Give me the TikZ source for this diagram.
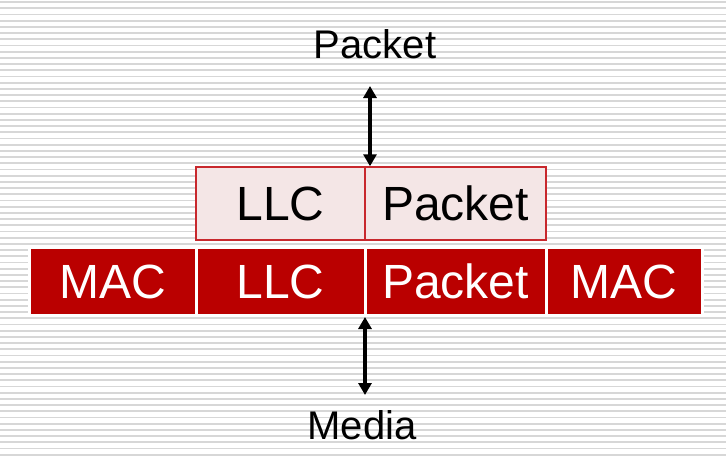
\documentclass[tikz,border=0pt]{standalone}
\usepackage{fontspec}
\setmainfont{Liberation Sans}
\usetikzlibrary{arrows.meta}

\definecolor{framered}{RGB}{186,0,0}
\definecolor{framepink}{RGB}{244,230,230}
\definecolor{frameline}{RGB}{200,40,45}
\definecolor{stripe}{RGB}{215,215,215}

\tikzstyle{upper} = [draw=frameline,line width=1.5pt,fill=framepink,minimum height=73pt,inner sep=0pt,font=\fontsize{48}{52}\selectfont]
\tikzstyle{lower} = [draw=white,line width=3pt,fill=framered,text=white,minimum height=68pt,inner sep=0pt,font=\fontsize{48}{52}\selectfont]
\tikzstyle{label} = [font=\fontsize{40}{44}\selectfont]
\tikzstyle{link} = [line width=3.2pt,{Triangle[length=12pt,width=13pt]}-{Triangle[length=12pt,width=13pt]}]

\begin{document}
\begin{tikzpicture}[x=1pt,y=-1pt]
	\useasboundingbox (0,0) rectangle (726,459);
	\fill[white] (0,0) rectangle (726,459);
	\foreach \s in {0,...,73}
		\draw[stripe,line width=1.8pt] (0,2+6.2*\s) -- (726,2+6.2*\s);

	\node[upper,minimum width=169pt] (llc1) at (280.5,203.5) {LLC};
	\node[upper,minimum width=181pt] (pkt1) at (455.5,203.5) {Packet};

	\node[lower,minimum width=167pt] (mac1) at (112.5,281.5) {MAC};
	\node[lower,minimum width=169pt] (llc2) at (280.5,281.5) {LLC};
	\node[lower,minimum width=181pt] (pkt2) at (455.5,281.5) {Packet};
	\node[lower,minimum width=156pt] (mac2) at (624,281.5) {MAC};

	\node[label] (top) at (375,44) {Packet};
	\node[label] (bottom) at (362,425) {Media};

	\coordinate (pa) at (370,86);
	\coordinate (ma) at (365,395);

	\draw[link] (pa) -- (pa |- pkt1.north);
	\draw[link] (ma) -- (ma |- llc2.south);
\end{tikzpicture}
\end{document}
